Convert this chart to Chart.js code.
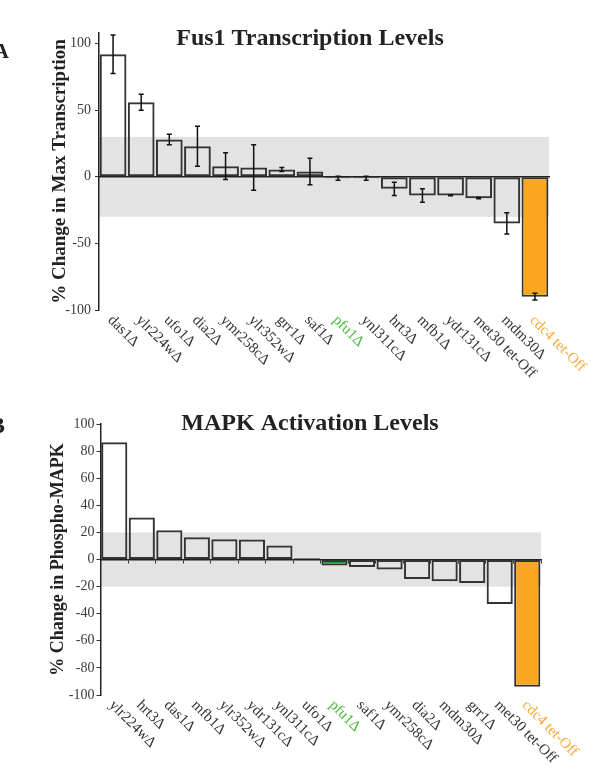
<!DOCTYPE html>
<html>
<head>
<meta charset="utf-8">
<script src="https://cdn.jsdelivr.net/npm/chart.js@4.4.0/dist/chart.umd.min.js"></script>
<style>
	body { margin: 0; background: #fff; width: 597px; height: 770px; overflow: hidden; position: relative; }
	.box { position: absolute; left: 0; width: 597px; height: 385px; }
</style>
</head>
<body>
<div class="box" style="top:0"><canvas id="fus1" width="597" height="385"></canvas></div>
<div class="box" style="top:385px"><canvas id="mapk" width="597" height="385"></canvas></div>
<script>
// A : Fus1 transcription
const fusLabels = ["das1Δ", "ylr224wΔ", "ufo1Δ", "dia2Δ", "ymr258cΔ", "ylr352wΔ", "grr1Δ", "saf1Δ",
	"pfu1Δ", "ynl311cΔ", "hrt3Δ", "mfb1Δ", "ydr131cΔ", "met30 tet-Off", "mdm30Δ", "cdc4 tet-Off"];
const fusValues = [92, 56, 28, 23, 8, 7, 5.5, 4, -1, -1, -9, -14, -14, -16, -35, -90];
const fusErrors = [14.5, 6, 4, 15, 10, 17, 1.5, 10, 1.5, 1.5, 5, 5, 0.3, 0.5, 8, 2.5];
const fusBand = [-30, 30];
const fusTicks = [-100, -50, 0, 50, 100];

// B : MAPK activation
const mapkLabels = ["ylr224wΔ", "hrt3Δ", "das1Δ", "mfb1Δ", "ylr352wΔ", "ydr131cΔ", "ynl311cΔ", "ufo1Δ",
	"pfu1Δ", "saf1Δ", "ymr258cΔ", "dia2Δ", "mdm30Δ", "grr1Δ", "met30 tet-Off", "cdc4 tet-Off"];
const mapkValues = [86.5, 31, 21.5, 16.5, 15, 14.7, 10.3, 1, -4.5, -5.5, -7.4, -14.3, -16, -17.3, -32.8, -94];
const mapkBand = [-20, 20];
const mapkTicks = [-100, -80, -60, -40, -20, 0, 20, 40, 60, 80, 100];

const serif = "'Liberation Serif', 'DejaVu Serif', serif";

function labelColor(name) {
	if (name == "pfu1Δ") return "#49b83a";
	if (name == "cdc4 tet-Off") return "#f6a93a";
	return "#333";
}

function barFill(name, greenBar) {
	if (name == "cdc4 tet-Off") return "#f9a623";
	if (greenBar && name == "pfu1Δ") return "#23a323";
	return "rgba(0,0,0,0)";
}

// gray band behind everything
const bandPlugin = {
	id: "band",
	beforeDraw(chart, args, opts) {
		const ctx = chart.ctx;
		const area = chart.chartArea;
		const y = chart.scales.y;
		const top = y.getPixelForValue(opts.limits[1]);
		const bottom = y.getPixelForValue(opts.limits[0]);
		ctx.save();
		ctx.fillStyle = "#e3e3e3";
		ctx.fillRect(area.left, top, area.right - area.left, bottom - top);
		ctx.restore();
	}
};

// error bars
const errorPlugin = {
	id: "errors",
	afterDatasetsDraw(chart, args, opts) {
		if (!opts.values) return;
		const ctx = chart.ctx;
		const y = chart.scales.y;
		const meta = chart.getDatasetMeta(0);
		const vals = chart.data.datasets[0].data;
		ctx.save();
		ctx.strokeStyle = "#111";
		ctx.lineWidth = 1.5;
		for (let i = 0; i < vals.length; i++) {
			let x = meta.data[i].x;
			let y1 = y.getPixelForValue(vals[i] + opts.values[i]);
			let y2 = y.getPixelForValue(vals[i] - opts.values[i]);
			ctx.beginPath();
			ctx.moveTo(x, y1); ctx.lineTo(x, y2);
			ctx.moveTo(x - 2.5, y1); ctx.lineTo(x + 2.5, y1);
			ctx.moveTo(x - 2.5, y2); ctx.lineTo(x + 2.5, y2);
			ctx.stroke();
		}
		ctx.restore();
	}
};

// rotated category names, chart title, panel letter
const textPlugin = {
	id: "extras",
	afterDraw(chart, args, opts) {
		const ctx = chart.ctx;
		const area = chart.chartArea;
		const xs = chart.scales.x;
		const labels = chart.data.labels;
		ctx.save();
		ctx.font = "15px " + serif;
		ctx.textAlign = "left";
		ctx.textBaseline = "middle";
		for (let i = 0; i < labels.length; i++) {
			let x = xs.getPixelForValue(i);
			ctx.save();
			ctx.translate(x - 3, area.bottom + 8);
			ctx.rotate(Math.PI / 4);
			ctx.fillStyle = labelColor(labels[i]);
			ctx.fillText(labels[i], 0, 0);
			ctx.restore();
		}
		ctx.fillStyle = "#222";
		ctx.textBaseline = "alphabetic";
		ctx.textAlign = "center";
		ctx.font = "bold 24px " + serif;
		ctx.fillText(opts.title, 310, opts.titleY);
		ctx.textAlign = "right";
		ctx.font = "bold " + opts.panelSize + "px " + serif;
		ctx.fillText(opts.panel, opts.panelX, opts.panelY);
		ctx.restore();
	}
};

function makeChart(id, labels, values, errors, band, ticks, yMax, yTitle, panel, o) {
	const ctx = document.getElementById(id);
	return new Chart(ctx, {
		type: "bar",
		data: {
			labels: labels,
			datasets: [{
				data: values,
				backgroundColor: labels.map(n => barFill(n, o.greenBar)),
				borderColor: "#333",
				borderWidth: 2,
				borderSkipped: false,
				barPercentage: 0.95,
				categoryPercentage: 1
			}]
		},
		options: {
			responsive: false,
			animation: false,
			layout: { padding: { left: 24, right: o.right, top: o.top, bottom: 75 } },
			plugins: {
				legend: { display: false },
				tooltip: { enabled: false },
				band: { limits: band },
				errors: { values: errors },
				extras: { title: o.title, titleY: 45, panel: panel, panelSize: o.panelSize, panelX: o.panelX, panelY: o.panelY }
			},
			scales: {
				x: {
					position: { y: 0 },
					ticks: { display: false },
					grid: { display: o.xTicks, drawOnChartArea: false, drawTicks: true, tickLength: 3, color: "#333", offset: true },
					border: { display: true, color: "#222", width: 1.5 }
				},
				y: {
					min: -100,
					max: yMax,
					afterBuildTicks: function(s) { s.ticks = ticks.map(v => ({ value: v })); },
					afterFit: function(s) { s.width = o.yWidth; },
					ticks: { color: "#3a3a3a", padding: o.tickPad, font: { family: serif, size: 14 } },
					grid: { drawOnChartArea: false, drawTicks: true, tickLength: 4, color: "#333" },
					border: { display: true, color: "#222", width: 1.5 },
					title: {
						display: true,
						text: yTitle,
						color: "#222",
						padding: { top: o.titlePad },
						font: { family: serif, size: o.yTitleSize, weight: "bold" }
					}
				}
			}
		},
		plugins: [bandPlugin, errorPlugin, textPlugin]
	});
}

makeChart("fus1", fusLabels, fusValues, fusErrors, fusBand, fusTicks, 108,
	"% Change in Max Transcription", "A",
	{ title: "Fus1 Transcription Levels", right: 48, top: 33, yWidth: 75, tickPad: 4, titlePad: 25,
		yTitleSize: 19, greenBar: false, xTicks: false, panelSize: 21, panelX: 9, panelY: 58 });

makeChart("mapk", mapkLabels, mapkValues, null, mapkBand, mapkTicks, 100,
	"% Change in Phospho-MAPK", "B",
	{ title: "MAPK Activation Levels", right: 56, top: 39, yWidth: 76.5, tickPad: 2, titlePad: 24,
		yTitleSize: 18, greenBar: true, xTicks: true, panelSize: 24, panelX: 5, panelY: 48 });
</script>
</body>
</html>
